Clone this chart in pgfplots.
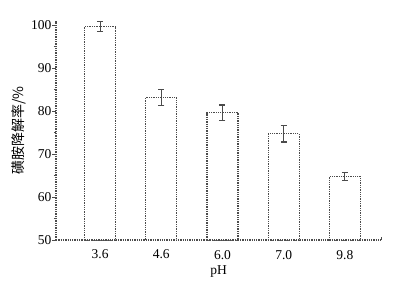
\documentclass[border=0pt]{standalone}
\usepackage{fontspec}
\setmainfont{Liberation Serif}
\newfontfamily\cjk{Noto Sans CJK SC}
\usepackage{pgfplots}
\pgfplotsset{compat=1.18}
\definecolor{ln}{RGB}{75,75,75}
\begin{document}
\begin{tikzpicture}
\begin{axis}[
  at={(0,0)}, anchor=south west,
  scale only axis,
  width=325pt, height=219.3pt,
  xmin=-0.72, xmax=4.59,
  ymin=50, ymax=101,
  axis x line*=bottom, axis y line*=left,
  axis line style={ln, densely dotted, line width=1.3pt, -},
  xtick=data,
  xticklabels={3.6,4.6,6.0,7.0,9.8},
  major x tick style={draw=none},
  ytick={50,60,70,80,90,100},
  minor y tick num=1,
  tick align=outside,
  major tick length=3.5pt, minor tick length=2pt,
  y tick style={ln, line width=0.9pt, solid},
  tick label style={font=\fontsize{13.5}{15}\selectfont, text=black},
  /pgf/number format/assume math mode=true,
  yticklabel style={inner xsep=1pt},
  xticklabel style={yshift=-3pt},
  xlabel={pH},
  xlabel style={font=\fontsize{13.5}{15}\selectfont, at={(axis description cs:0.5,0)}, anchor=center, yshift=-32pt},
  ylabel={\cjk 磺胺降解率/\%},
  ylabel style={font=\fontsize{14}{16}\selectfont, yshift=1pt},
  clip=false,
]
\addplot[ybar, bar width=31pt, fill=white, draw=ln, densely dotted, line width=1.3pt]
  coordinates {(0,99.6) (1,83.1) (2,79.6) (3,74.7) (4,64.8)};
\addplot[draw=none, mark=none,
  error bars/.cd, y dir=both, y explicit,
  error bar style={ln, line width=1.1pt, solid},
  error mark options={rotate=90, mark size=3pt, ln, line width=1.1pt}]
  coordinates {(0,99.6) +- (0,1.2) (1,83.1) +- (0,1.8) (2,79.6) +- (0,1.8) (3,74.7) +- (0,1.9) (4,64.8) +- (0,0.9)};
\draw[ln, line width=1pt] (rel axis cs:1,0) -- ([yshift=3pt]rel axis cs:1,0);
\end{axis}
\pgfresetboundingbox
\useasboundingbox (-56pt,-47pt) rectangle (355pt,240pt);
\end{tikzpicture}
\end{document}
